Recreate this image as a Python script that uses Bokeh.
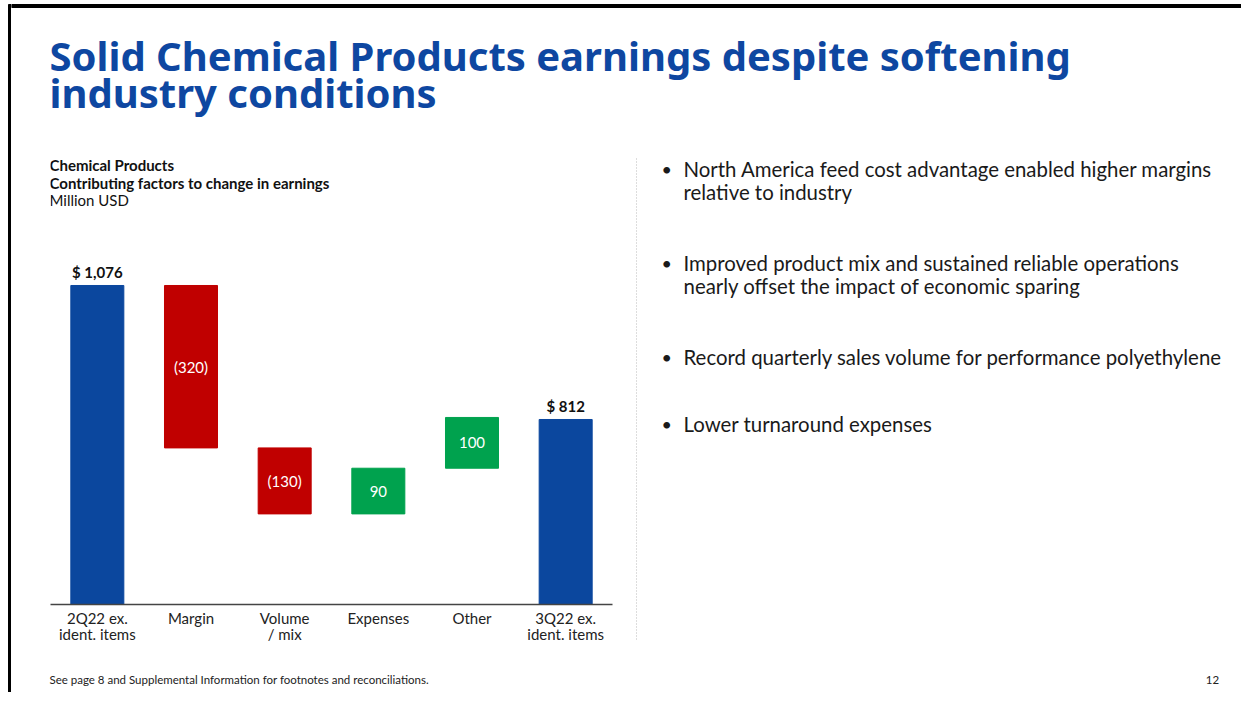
from bokeh.plotting import figure
from bokeh.models import ColumnDataSource, Range1d, FactorRange
from bokeh.layouts import row, column
from bokeh.core.properties import value
from bokeh.embed import file_html
from bokeh.resources import INLINE

# ---------------- data ----------------
categories = ["2Q22 ex.\nident. items", "Margin", "Volume\n/ mix", "Expenses", "Other", "3Q22 ex.\nident. items"]
start_total = 1076
changes = [-320, -130, 90, 100]
end_total = 812
total_labels = ["$ 1,076", "$ 812"]
change_labels = ["(320)", "(130)", "90", "100"]
axis_start = 447.5

title_lines = ["Solid Chemical Products earnings despite softening", "industry conditions"]
chart_title = ["Chemical Products", "Contributing factors to change in earnings"]
chart_unit = "Million USD"
bullets = [
    ["North America feed cost advantage enabled higher margins", "relative to industry"],
    ["Improved product mix and sustained reliable operations", "nearly offset the impact of economic sparing"],
    ["Record quarterly sales volume for performance polyethylene"],
    ["Lower turnaround expenses"],
]
footnote = "See page 8 and Supplemental Information for footnotes and reconciliations."
page_number = "12"

BLUE = "#0B479E"
RED = "#C00000"
GREEN = "#00A24E"
TITLE_BLUE = "#0E47A1"
FONT = "Lato"


def canvas(w, h, **kw):
    f = figure(width=w, height=h, output_backend="svg", toolbar_location=None,
               x_range=Range1d(0, w), y_range=Range1d(h, 0), min_border=0, **kw)
    f.axis.visible = False
    f.grid.visible = False
    f.outline_line_color = None
    f.background_fill_color = "white"
    f.border_fill_color = "white"
    return f


# ---------------- left border strip ----------------
strip = canvas(11, 692)
strip.quad(left=[8], right=[11], top=[4], bottom=[692], color="black")

# ---------------- header ----------------
header = canvas(1230, 140)
header.quad(left=[0], right=[1230], top=[4], bottom=[7], color="black")
header.text(x=[38, 38], y=[55, 92], text=title_lines, text_font=value("Noto Sans"),
            text_font_style="bold", text_font_size="40px", text_color=TITLE_BLUE,
            text_baseline="alphabetic", text_align="left")

# ---------------- chart title (frame aligned with chart frame) ----------------
ctitle = figure(width=609, height=78, output_backend="svg", toolbar_location=None,
                x_range=Range1d(0, 562), y_range=Range1d(78, 0),
                min_border_left=39, min_border_right=8, min_border_top=0, min_border_bottom=0)
ctitle.axis.visible = False
ctitle.grid.visible = False
ctitle.outline_line_color = None
ctitle.text(x=[-1, -1], y=[24, 42], text=chart_title, text_font=value(FONT),
            text_font_style="bold", text_font_size="15px", text_color="#111111",
            text_baseline="middle")
ctitle.text(x=[-1], y=[59], text=[chart_unit], text_font=value(FONT),
            text_font_size="15px", text_color="#111111", text_baseline="middle")

# ---------------- waterfall chart ----------------
bottoms, tops, colors = [axis_start], [start_total], [BLUE]
level = start_total
for d in changes:
    new = level + d
    bottoms.append(min(level, new))
    tops.append(max(level, new))
    colors.append(GREEN if d > 0 else RED)
    level = new
bottoms.append(axis_start)
tops.append(end_total)
colors.append(BLUE)

src = ColumnDataSource(dict(x=categories, bottom=bottoms, top=tops, color=colors))

chart = figure(width=609, height=445, output_backend="svg", toolbar_location=None,
               x_range=FactorRange(*categories, range_padding=0),
               y_range=Range1d(axis_start, 1208),
               min_border_left=39, min_border_right=8, min_border_top=0, min_border_bottom=59)
chart.vbar(x="x", bottom="bottom", top="top", width=0.566, color="color", source=src)

chart.text(x=[categories[0], categories[-1]], y=[start_total, end_total], text=total_labels,
           text_font=value(FONT), text_font_style="bold", text_font_size="15px",
           text_color="#111111", text_align="center", text_baseline="bottom", y_offset=-4)
mid_y = [(b + t) / 2 for b, t in zip(bottoms[1:-1], tops[1:-1])]
chart.text(x=categories[1:-1], y=mid_y, text=change_labels, text_font=value(FONT),
           text_font_size="15px", text_color="white", text_align="center", text_baseline="middle")

chart.yaxis.visible = False
chart.grid.visible = False
chart.outline_line_color = None
xa = chart.xaxis[0]
xa.major_tick_line_color = None
xa.minor_tick_line_color = None
xa.major_tick_out = 0
xa.major_tick_in = 0
xa.axis_line_color = "#444444"
xa.axis_line_width = 1.5
xa.major_label_standoff = 4
xa.major_label_text_font = FONT
xa.major_label_text_font_size = "15px"
xa.major_label_text_color = "#222222"
xa.major_label_text_line_height = 0.9

# ---------------- right text panel ----------------
right = canvas(621, 523)
right.segment(x0=[16], y0=[18], x1=[16], y1=[500], line_color="#BBBBBB", line_width=1, line_dash="1 2")
bullet_y = [28, 122, 216, 283]
line_gap = 23
bx, by, tx, ty, tt = [], [], [], [], []
for y0, lines in zip(bullet_y, bullets):
    bx.append(41)
    by.append(y0)
    for i, ln in enumerate(lines):
        tx.append(63)
        ty.append(y0 + i * line_gap)
        tt.append(ln)
right.text(x=bx, y=by, text=["•"] * len(bx), text_font=value(FONT), text_font_size="18px",
           text_color="#1a1a1a", text_baseline="middle", text_align="left")
right.text(x=tx, y=ty, text=tt, text_font=value(FONT), text_font_size="20.4px",
           text_color="#1a1a1a", text_baseline="middle", text_align="left")

# ---------------- footer ----------------
footer = canvas(1230, 29)
footer.text(x=[38], y=[16], text=[footnote], text_font=value(FONT), text_font_size="11.5px",
            text_color="#222222", text_baseline="middle")
footer.text(x=[1201], y=[16], text=[page_number], text_font=value(FONT), text_font_size="11.5px",
            text_color="#222222", text_baseline="middle", text_align="center")

layout = row(strip, column(header, row(column(ctitle, chart), right), footer))

open("out.html", "w").write(file_html(layout, INLINE))
